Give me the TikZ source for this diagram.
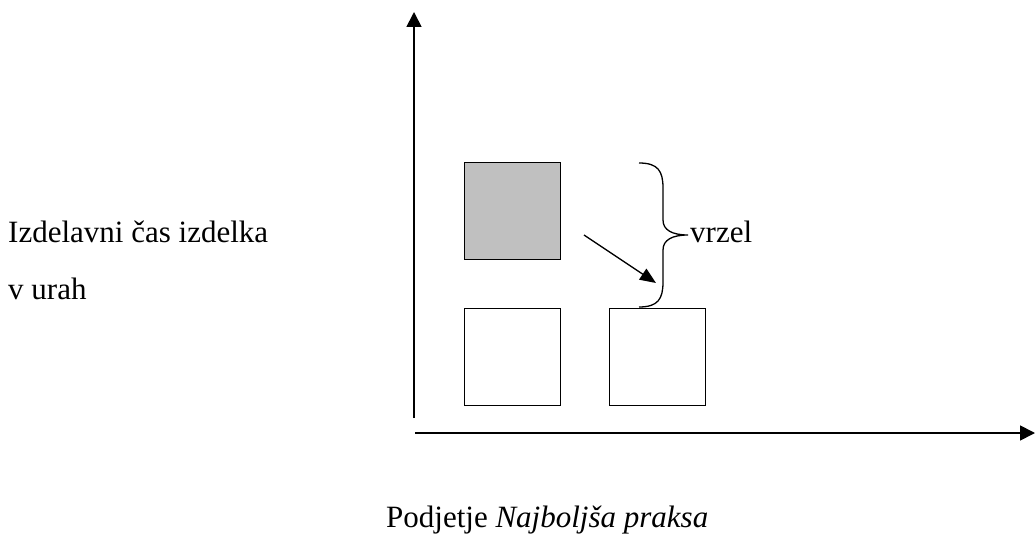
\documentclass[tikz,border=0pt]{standalone}
\usepackage{fontspec}
\setmainfont{Liberation Serif}
\usetikzlibrary{arrows.meta}
\definecolor{boxgray}{HTML}{C0C0C0}
\begin{document}
\begin{tikzpicture}[x=1pt,y=1pt,
  axis/.style={line width=1.7pt,-{Triangle[length=15pt,width=15pt]}},
  sq/.style={draw,line width=1.2pt,minimum width=96pt,minimum height=97pt,inner sep=0pt,anchor=north west},
  lbl/.style={font=\fontsize{31}{37}\selectfont,inner sep=0pt,anchor=base west}]
\useasboundingbox (0,0) rectangle (1035,533);
% axes
\coordinate (o1) at (414,115);
\coordinate (ytop) at (414,521);
\coordinate (o2) at (415,100);
\coordinate (xend) at (1035,100);
\draw[axis] (o1) -- (ytop);
\draw[axis] (o2) -- (xend);
% squares
\node[sq,fill=boxgray] (g) at (464,371) {};
\node[sq] (a) at (464,225) {};
\node[sq] (b) at (609,225) {};
% arrow
\coordinate (as) at (584,298);
\coordinate (ae) at (656,250);
\draw[line width=1.3pt,-{Triangle[length=16pt,width=13pt]}] (as) -- (ae);
% brace
\coordinate (bt) at (639,370);
\coordinate (btip) at (688,298);
\coordinate (bb) at (639,226);
\draw[line width=1.3pt] (bt) .. controls (658,370) and (663,362) .. (663,345) -- (663,313)
  .. controls (663,303) and (672,298) .. (btip)
  .. controls (672,298) and (663,293) .. (663,283) -- (663,251)
  .. controls (663,234) and (658,226) .. (bb);
\node[lbl] (v) at (690,290) {vrzel};
% labels
\node[lbl] (l1) at (8,290) {Izdelavni čas izdelka};
\node[lbl] (l2) at (8,233) {v urah};
\node[lbl] (l3) at (386,6) {Podjetje \textit{Najboljša praksa}};
\end{tikzpicture}
\end{document}
